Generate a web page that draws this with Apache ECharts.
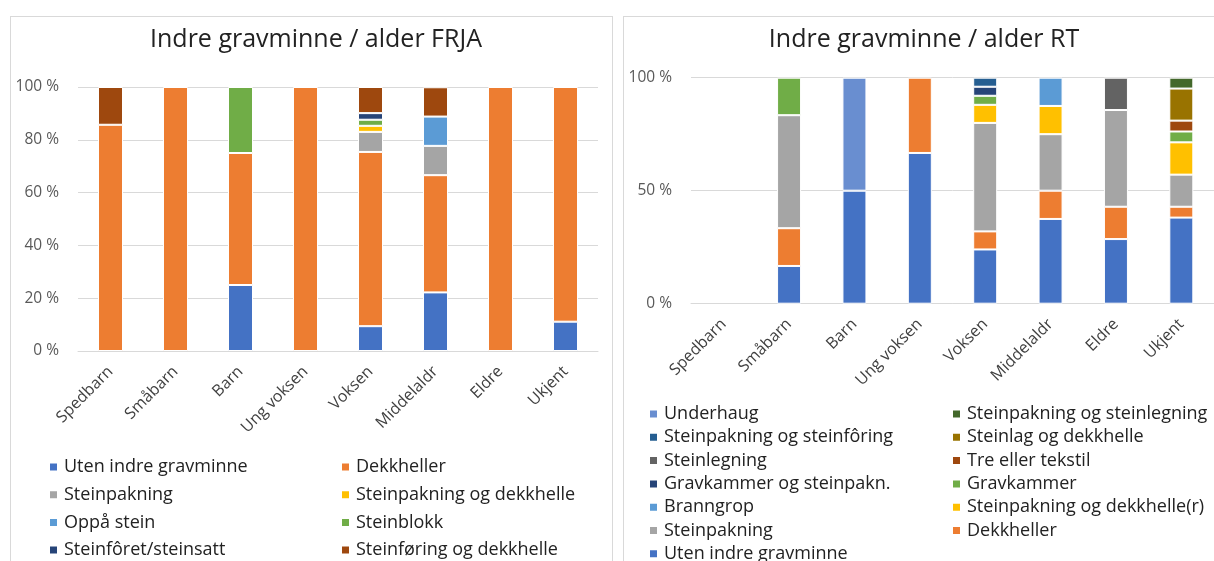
<!DOCTYPE html>
<html>
<head>
<meta charset="utf-8">
<script src="https://cdn.jsdelivr.net/npm/echarts@6/dist/echarts.min.js"></script>
<style>
  * { margin: 0; padding: 0; }
  body { background: #fff; width: 1214px; height: 561px; overflow: hidden; position: relative; }
  .panel { position: absolute; top: 16px; height: 560px; border: 1px solid #d9d9d9; box-sizing: border-box; background: #fff; }
  #frja { left: 10px; width: 603px; }
  #rt { left: 623px; width: 600px; }
</style>
</head>
<body>
<div id="frja" class="panel"></div>
<div id="rt" class="panel"></div>
<script>
// kategorier (alder)
const categories = ['Spedbarn', 'Småbarn', 'Barn', 'Ung voksen', 'Voksen', 'Middelaldr', 'Eldre', 'Ukjent'];

// FRJA, andel i prosent per alder
const frjaNames = ['Uten indre gravminne', 'Dekkheller', 'Steinpakning', 'Steinpakning og dekkhelle',
  'Oppå stein', 'Steinblokk', 'Steinfôret/steinsatt', 'Steinføring og dekkhelle'];
const frjaColors = ['#4472C4', '#ED7D31', '#A5A5A5', '#FFC000', '#5B9BD5', '#70AD47', '#264478', '#9E480E'];
const frjaUten       = [0, 0, 25, 0, 9.4, 22.2, 0, 11.1];
const frjaDekkheller = [85.7, 100, 50, 100, 66, 44.4, 100, 88.9];
const frjaSteinpakn  = [0, 0, 0, 0, 7.6, 11.1, 0, 0];
const frjaSpDekk     = [0, 0, 0, 0, 2.3, 0, 0, 0];
const frjaOppa       = [0, 0, 0, 0, 0, 11.1, 0, 0];
const frjaSteinblokk = [0, 0, 25, 0, 2.3, 0, 0, 0];
const frjaSteinforet = [0, 0, 0, 0, 2.5, 0, 0, 0];
const frjaSfDekk     = [14.3, 0, 0, 0, 9.9, 11.1, 0, 0];
const frjaValues = [frjaUten, frjaDekkheller, frjaSteinpakn, frjaSpDekk, frjaOppa, frjaSteinblokk, frjaSteinforet, frjaSfDekk];

// RT, andel i prosent per alder
const rtNames = ['Uten indre gravminne', 'Dekkheller', 'Steinpakning', 'Steinpakning og dekkhelle(r)', 'Branngrop',
  'Gravkammer', 'Gravkammer og steinpakn.', 'Tre eller tekstil', 'Steinlegning', 'Steinlag og dekkhelle',
  'Steinpakning og steinfôring', 'Steinpakning og steinlegning', 'Underhaug'];
const rtColors = ['#4472C4', '#ED7D31', '#A5A5A5', '#FFC000', '#5B9BD5', '#70AD47', '#264478', '#9E480E',
  '#636363', '#997300', '#255E91', '#43682B', '#698ED0'];
const rtUten        = [0, 16.7, 50, 66.7, 24, 37.5, 28.6, 38.1];
const rtDekkheller  = [0, 16.7, 0, 33.3, 8, 12.5, 14.3, 4.8];
const rtSteinpakn   = [0, 50, 0, 0, 48, 25, 42.8, 14.2];
const rtSpDekk      = [0, 0, 0, 0, 8, 12.5, 0, 14.3];
const rtBranngrop   = [0, 0, 0, 0, 0, 12.5, 0, 0];
const rtGravkammer  = [0, 16.6, 0, 0, 4, 0, 0, 4.8];
const rtGkSteinp    = [0, 0, 0, 0, 4, 0, 0, 0];
const rtTre         = [0, 0, 0, 0, 0, 0, 0, 4.8];
const rtSteinlegn   = [0, 0, 0, 0, 0, 0, 14.3, 0];
const rtSteinlag    = [0, 0, 0, 0, 0, 0, 0, 14.2];
const rtSpSteinfor  = [0, 0, 0, 0, 4, 0, 0, 0];
const rtSpSteinlegn = [0, 0, 0, 0, 0, 0, 0, 4.8];
const rtUnderhaug   = [0, 0, 50, 0, 0, 0, 0, 0];
const rtValues = [rtUten, rtDekkheller, rtSteinpakn, rtSpDekk, rtBranngrop, rtGravkammer, rtGkSteinp, rtTre,
  rtSteinlegn, rtSteinlag, rtSpSteinfor, rtSpSteinlegn, rtUnderhaug];

// legend-kolonner
const frjaLegend1 = ['Uten indre gravminne', 'Steinpakning', 'Oppå stein', 'Steinfôret/steinsatt'];
const frjaLegend2 = ['Dekkheller', 'Steinpakning og dekkhelle', 'Steinblokk', 'Steinføring og dekkhelle'];
const rtLegend1 = ['Underhaug', 'Steinpakning og steinfôring', 'Steinlegning', 'Gravkammer og steinpakn.',
  'Branngrop', 'Steinpakning', 'Uten indre gravminne'];
const rtLegend2 = ['Steinpakning og steinlegning', 'Steinlag og dekkhelle', 'Tre eller tekstil', 'Gravkammer',
  'Steinpakning og dekkhelle(r)', 'Dekkheller'];

const FONT = '"Open Sans", sans-serif';

function makeSeries(names, colors, values, barWidth) {
  return names.map((name, i) => ({
    name: name,
    type: 'bar',
    stack: 'total',
    barWidth: barWidth,
    data: values[i].map(v => (v === 0 ? null : v)),
    itemStyle: { color: colors[i], borderColor: '#fff', borderWidth: 1 },
    emphasis: { disabled: true }
  }));
}

function makeLegend(data, left, top, gap) {
  return {
    data: data,
    orient: 'vertical',
    left: left,
    top: top,
    padding: 0,
    icon: 'rect',
    itemWidth: 9,
    itemHeight: 9,
    itemGap: gap,
    selectedMode: false,
    textStyle: { fontFamily: FONT, fontSize: 18, color: '#222', lineHeight: 20, padding: [0, 0, 0, 1] }
  };
}

function buildChart(id, cfg) {
  const chart = echarts.init(document.getElementById(id), null, { renderer: 'canvas' });
  chart.setOption({
    animation: false,
    color: cfg.colors,
    title: {
      text: cfg.title,
      left: cfg.titleX,
      top: 5,
      textAlign: 'center',
      textStyle: { fontFamily: FONT, fontSize: 25, fontWeight: 'normal', color: '#222' }
    },
    legend: [
      makeLegend(cfg.legend1, cfg.leg1X, cfg.legTop, cfg.legGap),
      makeLegend(cfg.legend2, cfg.leg2X, cfg.legTop, cfg.legGap)
    ],
    grid: { left: cfg.grid[0], top: cfg.grid[1], width: cfg.grid[2], height: cfg.grid[3] },
    xAxis: {
      type: 'category',
      data: categories,
      axisLine: { lineStyle: { color: '#d9d9d9' } },
      axisTick: { show: false },
      axisLabel: { rotate: 45, interval: 0, fontFamily: FONT, fontSize: 16, color: '#404040', margin: 18 }
    },
    yAxis: {
      type: 'value',
      min: 0,
      max: 100,
      interval: cfg.interval,
      axisLine: { show: false },
      axisTick: { show: false },
      splitLine: { lineStyle: { color: '#d9d9d9', width: 1 } },
      axisLabel: { formatter: '{value} %', fontFamily: FONT, fontSize: 15.5, color: '#595959', margin: 19 }
    },
    series: makeSeries(cfg.names, cfg.colors, cfg.values, cfg.barWidth)
  });
  window.addEventListener('resize', () => chart.resize());
}

buildChart('frja', {
  title: 'Indre gravminne / alder FRJA', titleX: 300,
  names: frjaNames, colors: frjaColors, values: frjaValues, barWidth: 25,
  grid: [67, 70, 520, 264], interval: 20,
  legend1: frjaLegend1, legend2: frjaLegend2, leg1X: 37, leg2X: 329, legTop: 440, legGap: 7.7
});

buildChart('rt', {
  title: 'Indre gravminne / alder RT', titleX: 295,
  names: rtNames, colors: rtColors, values: rtValues, barWidth: 24,
  grid: [67, 60.7, 523, 226], interval: 50,
  legend1: rtLegend1, legend2: rtLegend2, leg1X: 24, leg2X: 327, legTop: 387, legGap: 3.3
});
</script>
</body>
</html>
